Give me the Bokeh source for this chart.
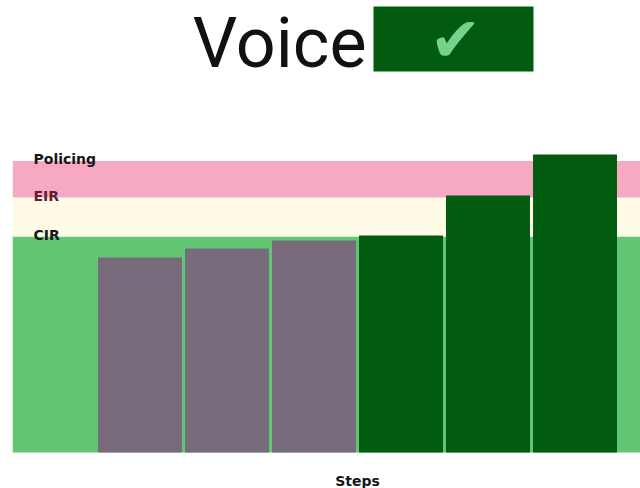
from bokeh.plotting import figure
from bokeh.models import Range1d, ColumnDataSource, Label, BoxAnnotation
from bokeh.core.properties import value
from bokeh.embed import file_html
from bokeh.resources import INLINE

# ---- data ----
steps = [1, 2, 3, 4, 5, 6]
rates = [90.3, 94.4, 98.1, 100.5, 119.0, 138.0]
phases = ["ramp", "ramp", "ramp", "burst", "burst", "burst"]

band_names = ["CIR", "EIR", "Policing"]
band_levels = [100.0, 118.0, 135.0]   # upper edge of each band
title_text = "Voice"
axis_title = "Steps"

# ---- styling ----
phase_colors = {"ramp": "#786c7c", "burst": "#015c10"}
band_colors = ["#62c574", "#fffbe7", "#f6a9c1"]
label_colors = {"CIR": "#161616", "EIR": "#5e1f30", "Policing": "#161616"}

W, H = 640, 488
BORDER_L = 12
PX_X = 87.0     # pixels per step
PX_Y = 2.16     # pixels per rate unit
FW, FH = W - BORDER_L, H
X0 = 1 - (139.5 - BORDER_L) / PX_X
X1 = X0 + FW / PX_X
Y0 = -(H - 452) / PX_Y
Y1 = Y0 + FH / PX_Y

def dx(px):  # picture pixel -> data x
    return X0 + (px - BORDER_L) / PX_X

def dy(py):  # picture pixel -> data y
    return Y0 + (H - py) / PX_Y

p = figure(width=W, height=H, output_backend="svg", toolbar_location=None,
           x_range=Range1d(X0, X1), y_range=Range1d(Y0, Y1),
           x_axis_location=None, y_axis_location=None,
           min_border_left=BORDER_L, min_border_right=0,
           min_border_top=0, min_border_bottom=0)
p.outline_line_color = None
p.grid.visible = False
p.background_fill_color = "white"
p.border_fill_color = "white"

# bands
bottoms = [0.0] + band_levels[:-1]
band_src = ColumnDataSource(dict(bottom=bottoms, top=band_levels, color=band_colors,
                                 left=[X0] * 3, right=[X1] * 3))
p.quad(left="left", right="right", bottom="bottom", top="top", fill_color="color",
       line_color=None, source=band_src)

# bars
bar_src = ColumnDataSource(dict(step=steps, rate=rates,
                                color=[phase_colors[ph] for ph in phases]))
p.vbar(x="step", top="rate", bottom=0, width=0.965, fill_color="color",
       line_color=None, source=bar_src)

# band labels
lab_src = ColumnDataSource(dict(x=[X0] * 3, y=band_levels, text=band_names,
                                color=[label_colors[n] for n in band_names]))
p.text(x="x", y="y", text="text", source=lab_src, x_offset=21, y_offset=-2,
       text_color="color", text_font=value("DejaVu Sans"), text_font_style="bold",
       text_font_size="14px", text_baseline="alphabetic", text_align="left")

# axis title
p.text(x=[sum(steps) / len(steps)], y=[dy(480)], text=[axis_title],
       text_font=value("DejaVu Sans"), text_font_style="bold", text_font_size="14px",
       text_color="#161616", text_baseline="alphabetic", text_align="center")

# title with status box
p.add_layout(Label(x=dx(366), y=dy(42), text=title_text, text_align="right",
                   text_baseline="alphabetic", text_font="Roboto",
                   text_font_size="70px", text_color="#111111"))
p.add_layout(BoxAnnotation(left=dx(373), right=dx(533), top=dy(6), bottom=dy(71),
                           fill_color="#015c10", fill_alpha=1.0, line_color=None))
p.add_layout(Label(x=dx(455), y=dy(39), text="\u2714", text_align="center",
                   text_baseline="middle", text_font="DejaVu Sans",
                   text_font_size="62px", text_color="#74d28c"))

open("out.html", "w").write(file_html(p, INLINE))
